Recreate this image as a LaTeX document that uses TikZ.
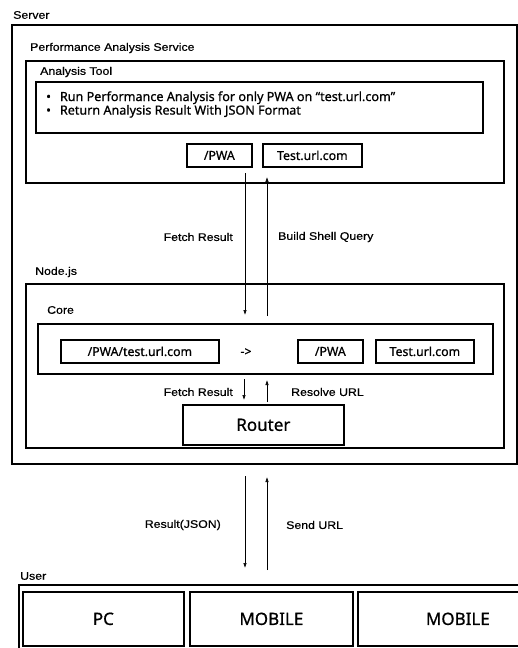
\documentclass[tikz,border=0pt]{standalone}
\usepackage{fontspec}
\setmainfont{Noto Sans}[FakeBold=0.8]
\newfontfamily\tagfont{Liberation Sans}[FakeStretch=1.12,FakeBold=0.6]
\usetikzlibrary{positioning,arrows.meta}
\newcommand{\frm}[5]{node[frame,minimum width=#3,minimum height=#4](#1) at #2 {#5}}

\begin{document}
\begin{tikzpicture}[
      x=1pt,y=-1pt,
      frame/.style={draw=black,line width=1.7pt,anchor=north west,inner sep=0pt},
      tag/.style={font=\tagfont\fontsize{11}{12}\selectfont,anchor=west,inner sep=0pt},
      item/.style={font=\fontsize{12.3}{14}\selectfont},
      link/.style={-{Latex[length=5pt,width=3.5pt]},line width=0.6pt}
      ]
      \clip (0,0) rectangle (518,648);
      \useasboundingbox (0,0) rectangle (518,648);
      % server side
      \node[tag] (serverlbl) at (13,15) {Server};
      \path \frm{server}{(11,24)}{505pt}{439pt}{};
      \node[tag] (perflbl) at (30,48) {Performance Analysis Service};
      \path \frm{perf}{(25,60)}{478pt}{122pt}{};
      \node[tag] (toollbl) at (40,72) {Analysis Tool};
      \path \frm{task}{(35,81)}{447pt}{51pt}{};
      \node[item,anchor=west,align=left,inner sep=0pt,font=\fontsize{12.6}{12.3}\selectfont] (tasktext) at (46,104.5)
        {•\hspace{9pt}Run Performance Analysis for only PWA on “test.url.com”\\
         •\hspace{9pt}Return Analysis Result With JSON Format};
      \path \frm{pwa}{(186,143)}{65pt}{23pt}{\fontsize{12.3}{14}\selectfont /PWA};
      \path \frm{url}{(262,143)}{99pt}{23pt}{\fontsize{12.3}{14}\selectfont Test.url.com};
      % node.js
      \node[tag] (nodelbl) at (35,272) {Node.js};
      \path \frm{nodejs}{(25,283)}{478pt}{164pt}{};
      \node[tag] (corelbl) at (47,310) {Core};
      \path \frm{core}{(37,323)}{455pt}{50pt}{};
      \path \frm{full}{(60,339)}{158pt}{23pt}{\fontsize{12.3}{14}\selectfont /PWA/test.url.com};
      \node[item,inner sep=0pt] (maps) at (246,352) {->};
      \path \frm{cpwa}{(297,339)}{65pt}{23pt}{\fontsize{12.3}{14}\selectfont /PWA};
      \path \frm{curl}{(375,339)}{98pt}{23pt}{\fontsize{12.3}{14}\selectfont Test.url.com};
      \path \frm{router}{(182,404)}{161pt}{40pt}{\fontsize{17}{20}\selectfont Router};
      % user
      \node[tag] (userlbl) at (20,576) {User};
      \path \frm{user}{(18,584)}{600pt}{100pt}{};
      \path \frm{pc}{(22,591)}{161pt}{54pt}{\fontsize{17}{20}\selectfont PC};
      \path \frm{mob}{(189,591)}{163pt}{54pt}{\fontsize{17}{20}\selectfont MOBILE};
      \path \frm{tab}{(357,591)}{200pt}{54pt}{\fontsize{17}{20}\selectfont MOBILE};
      % arrows
      \coordinate (fetchtop) at (245,173);
      \coordinate (fetchend) at (245,315);
      \coordinate (querybot) at (267,316);
      \coordinate (querytop) at (267,177);
      \draw[link] (fetchtop) -- (fetchend);
      \draw[link] (querybot) -- (querytop);
      \node[tag,anchor=east] (fetchlbl) at (233,237) {Fetch Result};
      \node[tag] (querylbl) at (278,237) {Build Shell Query};
      \coordinate (rfetchtop) at (244,379);
      \coordinate (rfetchend) at (244,400);
      \coordinate (resolvebot) at (267,402);
      \coordinate (resolvetop) at (267,380);
      \draw[link] (rfetchtop) -- (rfetchend);
      \draw[link] (resolvebot) -- (resolvetop);
      \node[tag,anchor=east] (rfetchlbl) at (233,392) {Fetch Result};
      \node[tag] (resolvelbl) at (291,392) {Resolve URL};
      \coordinate (jsontop) at (245,476);
      \coordinate (jsonend) at (245,568);
      \coordinate (sendbot) at (267,570);
      \coordinate (sendtop) at (267,477);
      \draw[link] (jsontop) -- (jsonend);
      \draw[link] (sendbot) -- (sendtop);
      \node[tag,anchor=east] (jsonlbl) at (221,525) {Result(JSON)};
      \node[tag] (sendlbl) at (286,525) {Send URL};
    \end{tikzpicture}
\end{document}
